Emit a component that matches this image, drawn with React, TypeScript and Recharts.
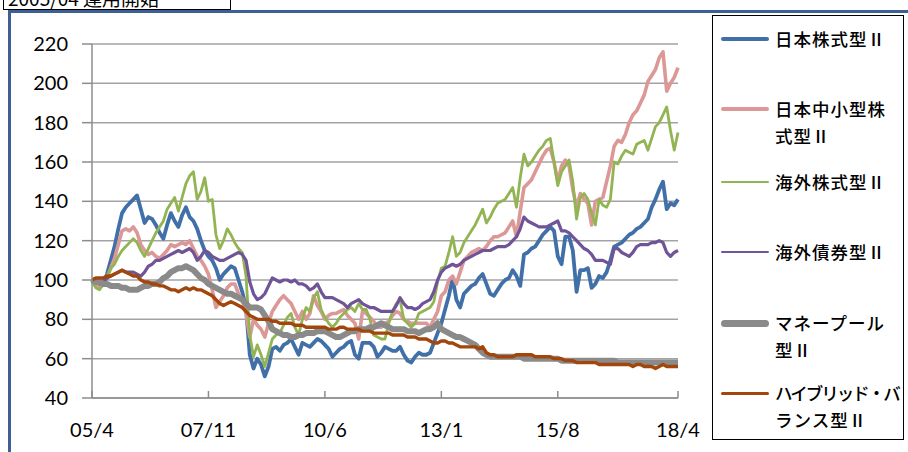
import React from "react";
import { LineChart, Line, XAxis, YAxis, CartesianGrid } from "recharts";

// month index 0 = 2005/04 ... 156 = 2018/04
const xTickValues = [0, 31, 62, 93, 124, 156];
const xTickLabels = ["05/4", "07/11", "10/6", "13/1", "15/8", "18/4"];
const yTicks = [40, 60, 80, 100, 120, 140, 160, 180, 200, 220];

const japanEquity = [
  100, 97, 96, 98, 103, 110, 117, 126, 134, 137, 139, 141, 143, 136, 129, 132, 131, 128, 124, 121,
  128, 134, 130, 127, 133, 137, 132, 130, 126, 120, 115, 112, 110, 106, 100, 103, 105, 107, 106, 100,
  94, 86, 62, 55, 60, 57, 51, 56, 65, 66, 64, 67, 68, 70, 66, 62, 68, 67, 66, 68,
  70, 69, 67, 65, 61, 63, 65, 66, 68, 69, 62, 60, 68, 68, 68, 66, 61, 63, 66, 65,
  64, 64, 66, 62, 59, 58, 61, 63, 62, 62, 63, 68, 73, 78, 85, 92, 101, 90, 86, 93,
  95, 97, 98, 101, 103, 98, 93, 92, 95, 98, 100, 101, 105, 102, 97, 113, 114, 116, 117, 120,
  123, 125, 127, 125, 112, 108, 122, 122, 115, 94, 105, 105, 106, 96, 98, 102, 101, 104, 110, 117,
  118, 119, 121, 123, 124, 126, 127, 129, 131, 137, 141, 146, 150, 136, 139, 138, 141,
];
const japanSmallMid = [
  100, 97, 96, 98, 101, 106, 111, 118, 125, 126, 125, 127, 124, 118, 115, 113, 114, 112, 111, 113,
  115, 118, 117, 118, 119, 118, 120, 116, 112, 110, 107, 103, 95, 86, 89, 92, 96, 98, 98, 93,
  90, 83, 71, 80, 77, 75, 71, 78, 84, 87, 90, 92, 90, 88, 84, 80, 84, 80, 83, 92,
  87, 84, 80, 82, 83, 83, 84, 85, 82, 80, 78, 70, 84, 83, 81, 79, 76, 76, 78, 79,
  82, 84, 83, 80, 79, 78, 78, 78, 78, 78, 76, 80, 84, 92, 94, 100, 102, 98, 104, 110,
  112, 114, 115, 116, 115, 117, 120, 122, 122, 123, 124, 127, 130, 122, 135, 147, 149, 151, 155, 159,
  163, 166, 167, 160, 150, 158, 161, 158, 146, 137, 144, 141, 139, 128, 140, 141, 142, 150, 158, 168,
  171, 170, 174, 180, 184, 186, 190, 194, 201, 204, 207, 213, 216, 196, 200, 203, 208,
];
const foreignEquity = [
  100, 96, 95, 98, 102, 106, 108, 112, 115, 117, 119, 121, 119, 115, 112, 116, 120, 124, 127, 130,
  136, 139, 142, 135, 142, 149, 153, 155, 141, 145, 152, 140, 141, 123, 116, 120, 126, 123, 119, 116,
  114, 102, 72, 61, 67, 62, 56, 63, 70, 72, 73, 77, 81, 83, 76, 72, 80, 86, 84, 91,
  94, 85, 81, 78, 76, 78, 81, 83, 85, 86, 84, 88, 85, 85, 80, 72, 71, 70, 70, 78,
  84, 88, 90, 80, 78, 76, 78, 83, 84, 85, 86, 89, 99, 106, 107, 114, 122, 112, 114, 119,
  122, 125, 128, 132, 136, 129, 132, 136, 139, 140, 141, 144, 147, 137, 152, 164, 158, 160, 163, 166,
  168, 171, 172, 160, 148, 155, 158, 161, 150, 131, 142, 144, 141, 134, 128, 141, 138, 137, 141, 160,
  159, 163, 166, 165, 164, 169, 170, 171, 166, 172, 178, 180, 184, 188, 176, 166, 175,
];
const foreignBond = [
  100, 99, 98, 99, 101, 102, 103, 104, 105, 104, 104, 104, 103, 102, 104, 107, 108, 110, 110, 111,
  112, 113, 114, 115, 114, 115, 116, 114, 110, 112, 115, 114, 112, 111, 110, 110, 111, 112, 113, 114,
  113, 110, 99, 93, 90, 91, 93, 97, 101, 100, 99, 100, 100, 99, 100, 98, 98, 97, 95, 96,
  98, 94, 91, 91, 91, 90, 89, 88, 86, 88, 89, 90, 88, 87, 86, 86, 85, 84, 84, 84,
  84, 87, 91, 88, 86, 86, 85, 86, 88, 89, 90, 94, 100, 104, 106, 107, 108, 107, 108, 110,
  111, 112, 113, 114, 115, 115, 115, 116, 117, 117, 117, 118, 120, 122, 126, 132, 130, 129, 128, 127,
  127, 127, 128, 129, 130, 125, 125, 124, 122, 120, 118, 116, 115, 113, 110, 110, 110, 109, 108, 116,
  116, 114, 113, 112, 114, 117, 118, 118, 118, 119, 119, 120, 119, 114, 112, 114, 115,
];
const moneyPool = [
  100, 99, 99, 98, 98, 97, 97, 97, 96, 96, 95, 95, 95, 96, 97, 97, 98, 98, 99, 101,
  102, 104, 105, 106, 106, 107, 106, 105, 103, 101, 100, 98, 97, 96, 95, 94, 93, 93, 92, 91,
  90, 88, 86, 86, 86, 85, 82, 79, 75, 74, 73, 72, 72, 71, 71, 72, 72, 73, 73, 73,
  74, 74, 74, 73, 72, 71, 71, 72, 73, 74, 74, 75, 75, 75, 76, 76, 77, 78, 77, 76,
  75, 75, 75, 75, 74, 74, 74, 73, 74, 75, 75, 76, 78, 75, 74, 73, 72, 71, 71, 70,
  69, 68, 67, 65, 63, 62, 61, 61, 61, 61, 61, 61, 61, 61, 61, 60, 60, 60, 60, 60,
  60, 60, 60, 60, 60, 59, 59, 59, 59, 59, 59, 59, 59, 59, 59, 59, 59, 59, 59, 59,
  58, 58, 58, 58, 58, 58, 58, 58, 58, 58, 58, 58, 58, 58, 58, 58, 58,
];
const hybridBalance = [
  100, 101, 101, 101, 102, 102, 103, 104, 105, 104, 103, 102, 102, 100, 99, 99, 98, 98, 97, 97,
  96, 95, 95, 94, 95, 96, 95, 96, 95, 95, 94, 93, 92, 90, 88, 87, 88, 89, 88, 87,
  86, 84, 82, 81, 80, 80, 80, 80, 79, 79, 78, 78, 78, 78, 77, 77, 77, 76, 76, 76,
  76, 76, 76, 75, 75, 75, 76, 76, 75, 75, 75, 75, 74, 74, 74, 73, 73, 73, 73, 73,
  72, 72, 72, 72, 71, 71, 71, 70, 70, 70, 69, 68, 68, 69, 69, 68, 68, 67, 66, 66,
  66, 66, 66, 65, 66, 63, 62, 62, 61, 61, 61, 61, 61, 62, 62, 62, 62, 62, 61, 61,
  61, 61, 61, 60, 60, 60, 59, 59, 59, 58, 58, 58, 58, 58, 58, 57, 57, 57, 57, 57,
  57, 57, 57, 57, 56, 57, 57, 56, 56, 56, 55, 56, 57, 56, 56, 56, 56,
];

const seriesNames = [
  "日本株式型Ⅱ",
  "日本中小型株式型Ⅱ",
  "海外株式型Ⅱ",
  "海外債券型Ⅱ",
  "マネープール型Ⅱ",
  "ハイブリッド・バランス型Ⅱ",
];
const legendLines = [
  ["日本株式型Ⅱ"],
  ["日本中小型株", "式型Ⅱ"],
  ["海外株式型Ⅱ"],
  ["海外債券型Ⅱ"],
  ["マネープール", "型Ⅱ"],
  ["ハイブリッド・バ", "ランス型Ⅱ"],
];
const seriesValues = [japanEquity, japanSmallMid, foreignEquity, foreignBond, moneyPool, hybridBalance];
const seriesColors = ["#4170a8", "#dc9896", "#93b453", "#6f5497", "#8a8a8a", "#a2460b"];
const seriesWidths = [3.8, 3.6, 2.8, 3.2, 6, 3.4];
const legendWidths = [4, 4, 2.5, 2.5, 7, 3];
const legendTops = [39, 109, 182, 252, 323, 393];
const legendBoxTop = 15;

const data = japanEquity.map((_, i) => {
  const row: Record<string, number> = { m: i };
  seriesNames.forEach((n, k) => {
    row[n] = seriesValues[k][i];
  });
  return row;
});

const XTick = (props: any) => {
  const { x, y, payload } = props;
  const idx = xTickValues.indexOf(payload.value);
  return (
    <g>
      <line x1={x} x2={x} y1={y} y2={y - 7} stroke="#8c8c8c" strokeWidth={1.5} />
      <text x={x} y={y + 39} textAnchor="middle" fontSize={20} fontFamily="Lato" fill="#000">
        {xTickLabels[idx]}
      </text>
    </g>
  );
};

export default function App() {
  return (
    <div
      style={{
        position: "fixed",
        left: 0,
        top: 0,
        width: 908,
        height: 452,
        background: "#fff",
        overflow: "hidden",
      }}
    >
      <div
        style={{
          position: "absolute",
          left: 3,
          top: -14,
          height: 22,
          padding: "0 4px",
          border: "1px solid #000",
          fontFamily: "'Noto Sans CJK JP'",
          fontSize: 19,
          lineHeight: "22px",
          whiteSpace: "nowrap",
          color: "#000",
          width: 218,
        }}
      >
        2005/04 運用開始
      </div>
      <div
        style={{
          position: "absolute",
          left: 8,
          top: 10,
          width: 910,
          height: 450,
          borderLeft: "3px solid #3d5f95",
          borderTop: "3px solid #3d5f95",
          boxSizing: "border-box",
        }}
      />
      <div style={{ position: "absolute", left: 0, top: 0 }}>
        <LineChart
          width={908}
          height={452}
          data={data}
          margin={{ top: 44, right: 230, bottom: 24, left: 32 }}
        >
          <CartesianGrid vertical={false} stroke="#a3a3a3" strokeWidth={1.5} />
          <XAxis
            dataKey="m"
            type="number"
            domain={[0, 156]}
            ticks={xTickValues}
            tick={<XTick />}
            tickLine={false}
            tickSize={0}
            tickMargin={0}
            height={30}
            axisLine={{ stroke: "#8c8c8c", strokeWidth: 1.5 }}
            interval={0}
          />
          <YAxis
            type="number"
            domain={[40, 220]}
            ticks={yTicks}
            width={60}
            tickSize={10}
            tickMargin={14}
            tick={{ fontSize: 20, fontFamily: "Lato", fill: "#000" }}
            tickLine={{ stroke: "#8c8c8c", strokeWidth: 1.5 }}
            axisLine={{ stroke: "#8c8c8c", strokeWidth: 1.5 }}
            interval={0}
          />
          {seriesNames.map((n, k) => (
            <Line
              key={n}
              dataKey={n}
              type="linear"
              stroke={seriesColors[k]}
              strokeWidth={seriesWidths[k]}
              dot={false}
              isAnimationActive={false}
              strokeLinejoin="round"
            />
          ))}
        </LineChart>
      </div>
      <div
        style={{
          position: "absolute",
          left: 712,
          top: legendBoxTop,
          width: 192,
          height: 425,
          border: "1px solid #000",
          boxSizing: "border-box",
          background: "#fff",
        }}
      >
        {seriesNames.map((n, k) => (
          <div
            key={n}
            style={{ position: "absolute", left: 0, top: legendTops[k] - legendBoxTop - 1 - 14 }}
          >
            <div
              style={{
                position: "absolute",
                left: 8,
                top: 14 - legendWidths[k] / 2,
                width: 48,
                height: legendWidths[k],
                borderRadius: legendWidths[k] / 2,
                background: seriesColors[k],
              }}
            />
            {legendLines[k].map((t, j) => (
              <div
                key={t}
                style={{
                  position: "absolute",
                  left: 62,
                  top: j * 27,
                  whiteSpace: "nowrap",
                  fontFamily: "'Noto Sans CJK JP'",
                  fontSize: 17.5,
                  lineHeight: "28px",
                  letterSpacing: t.length > 6 ? -2 : 1,
                  color: "#000",
                  fontWeight: 500,
                }}
              >
                {t}
              </div>
            ))}
          </div>
        ))}
      </div>
    </div>
  );
}
